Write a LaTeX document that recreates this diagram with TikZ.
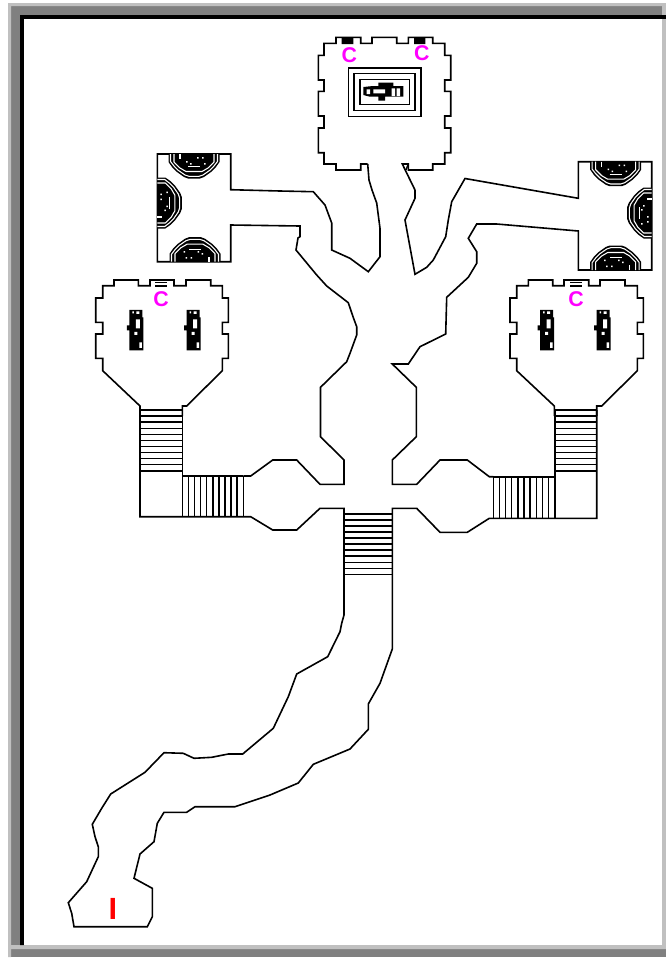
\documentclass[tikz,border=0pt]{standalone}
\usepackage{fontspec}
\setmainfont{Liberation Sans}
\definecolor{framelight}{HTML}{C0C0C0}
\definecolor{framegray}{HTML}{808080}
\definecolor{magentac}{HTML}{FF00FF}
\tikzset{
  wall/.style={draw=black,line width=1.2pt,line join=miter},
  thinline/.style={draw=black,line width=1.1pt},
  whiteline/.style={draw=white,line width=0.8pt,line join=round},
  cmark/.style={text=magentac,font=\fontsize{16}{16}\selectfont\bfseries,inner sep=0pt},
  imark/.style={text=red,font=\fontsize{23}{23}\selectfont\bfseries,inner sep=0pt}
}
% half-round alcove with concentric rings, on a wall
\newcommand{\alcove}[3]{%
  \begin{scope}[shift={(#1,#2)},rotate=#3]
    \fill[black] (-25.5,0) -- (-25.5,8) -- (-22,13) -- (-17,18) -- (-10,23) -- (-6,24.5) -- (6,24.5) -- (10,23) -- (17,18) -- (22,13) -- (25.5,8) -- (25.5,0) -- cycle;
    \draw[whiteline] (-23.5,0) -- (-23.5,7.5) -- (-20,12) -- (-15.5,16.5) -- (-9,21) -- (-5,22.3) -- (5,22.3) -- (9,21) -- (15.5,16.5) -- (20,12) -- (23.5,7.5) -- (23.5,0);
    \draw[whiteline] (-20,0) -- (-20,8) -- (-14,14) -- (-8,17.5) -- (8,17.5) -- (14,14) -- (20,8) -- (20,0);
    \draw[whiteline] (-14,0) -- (-14,5) (-6,12.5) -- (6,12.5);
    \fill[white] (-8,7) rectangle (-6.5,8.5) (-4,9) rectangle (-2.5,10.5) (3,3) rectangle (4.5,4.5) (8,3) rectangle (9.5,4.5) (10,9) rectangle (11.5,10.5);
  \end{scope}}
% statue: origin at its upper left corner
\newcommand{\statue}[2]{%
  \begin{scope}[shift={(#1,#2)}]
    \fill[black] (0,0.5) -- (13,0.5) -- (13,8) -- (14,8) -- (14,41) -- (0,41) -- (0,21) -- (-2.5,21) -- (-2.5,16) -- (0,16) -- cycle;
    \fill[white] (3,2) rectangle (4.5,4) (7,2) rectangle (10,4.5) (6.5,10) rectangle (10.5,19) (5,22.5) rectangle (8,25.5) (10,33) rectangle (12.5,38.5);
  \end{scope}}
\begin{document}
\begin{tikzpicture}[x=0.75pt,y=-0.75pt]
\useasboundingbox (0,0) rectangle (666,958);
% frame
\fill[framegray] (8,3) rectangle (666,957);
\fill[framelight] (8,3) rectangle (666,6) (8,3) rectangle (11,957) (662,6) rectangle (666,949) (11,945) rectangle (666,949);
\fill[black] (20,15) rectangle (666,19) (20,15) rectangle (24,945);
\fill[white] (24,19) rectangle (662,945);
\fill[framelight] (662,19) rectangle (666,949);
% central hall
\draw[wall] (367.7,164) -- (360.7,164) -- (360.7,170) -- (336,170) -- (336,164) -- (324,164) -- (324,152.7) -- (318.3,152.7) -- (318.3,128) -- (324,128) -- (324,116) -- (318.3,116) -- (318.3,91.3) -- (324,91.3) -- (324,80) -- (318.3,80) -- (318.3,55.3) -- (324,55.3) -- (324,43.3) -- (336,43.3) -- (336,37.3) -- (360.7,37.3) -- (360.7,43.3) -- (372,43.3) -- (372,37.3) -- (396.7,37.3) -- (396.7,43.3) -- (408.3,43.3) -- (408.3,37.3) -- (432.7,37.3) -- (432.7,43.3) -- (444.7,43.3) -- (444.7,55.3) -- (450.7,55.3) -- (450.7,80) -- (444.7,80) -- (444.7,91.3) -- (450.7,91.3) -- (450.7,116) -- (444.7,116) -- (444.7,128) -- (450.7,128) -- (450.7,152.7) -- (444.7,152.7) -- (444.7,164) -- (432.7,164) -- (432.7,170) -- (408.3,170) -- (408.3,164) -- (402.3,164) -- (415,190);
\draw[thinline] (408.3,164) -- (406,170);
\fill[black] (341.7,38) rectangle (353.3,44) (414,38) rectangle (425.3,44);
\node[cmark] (c1) at (349.3,55.3) {C};
\node[cmark] (c2) at (421.7,53.3) {C};
\draw[wall] (348.3,67.7) rectangle (420.7,116.3);
\draw[wall] (354,73.3) rectangle (415,110.3);
\draw[wall] (360,79.3) rectangle (409.3,104.3);
\fill[black] (363.3,87) -- (373,86) -- (378.3,86) -- (378.3,82.7) -- (393.3,82.7) -- (393.3,86) -- (403.3,86) -- (403.3,96.7) -- (385,96.7) -- (385,100.7) -- (378.3,100.7) -- (378.3,96.7) -- (370,96.7) -- (363.3,95) -- cycle;
\fill[white] (373.3,89.3) rectangle (385,93.3) (391.7,88.3) rectangle (395,96) (396.7,88.3) rectangle (400,96) (366.7,89.3) rectangle (370,94);
% corridor from the left T room to the central hall
\draw[wall] (367.7,164) -- (369,180) -- (372,190) -- (376.7,203) -- (380,228.3) -- (380,256.7) -- (368.3,271.7) -- (350,258.3) -- (331.7,250) -- (331.7,223) -- (325,205) -- (313.3,191.7) -- (280,191) -- (230.7,189.7) -- (230.7,154) -- (157.3,154) -- (157.3,261.7) -- (230.7,261.7) -- (230.7,225) -- (300,226) -- (300,236.7) -- (298,238) -- (296,250) -- (316.7,275) -- (326.7,286) -- (348.3,302.7) -- (353,316.7) -- (356.7,326.7) -- (356.7,335) -- (350,353.3) -- (346.7,361.7) -- (320.5,387.3) -- (320.5,436.7) -- (344,460) -- (344,484.3) -- (320,484.3) -- (296.7,460) -- (272.7,460) -- (250.7,476) -- (243.3,476);
% corridor from the central hall to the right T room
\draw[wall] (415,190) -- (415,198.3) -- (405,220) -- (415,274.3) -- (426.7,267.3) -- (433.3,260) -- (445.7,236.7) -- (448.3,220) -- (451.7,201.7) -- (465,178.5) -- (578.3,198.3) -- (578.3,161.7) -- (651.7,161.7) -- (651.7,270) -- (578.3,270) -- (578.3,231) -- (496.7,224) -- (476.7,224) -- (468.3,238.3) -- (476.7,251.7) -- (476.7,263.3) -- (468.3,277.3) -- (446.7,297.3) -- (445.7,334) -- (420,346.7) -- (408.3,364) -- (392.3,364) -- (416.3,387.3) -- (416.3,436.7) -- (392.3,460) -- (392.3,484.3) -- (416.7,484.3) -- (440,460) -- (467.3,460) -- (489.3,476.7) -- (493.3,476.7);
% alcoves
\alcove{194}{154}{0}
\alcove{157.3}{203}{90}
\alcove{195}{261.7}{180}
\alcove{615.7}{161.7}{0}
\alcove{651.7}{213}{-90}
\alcove{615.7}{270}{180}
% left side room
\draw[wall] (140,416) -- (140,406) -- (102.7,370.7) -- (102.7,358.3) -- (95.7,358.3) -- (95.7,334) -- (102.7,334) -- (102.7,322.3) -- (95.7,322.3) -- (95.7,298) -- (102.7,298) -- (102.7,285.7) -- (114,285.7) -- (114,280) -- (138.3,280) -- (138.3,285.7) -- (150,285.7) -- (150,280) -- (174,280) -- (174,285.7) -- (186,285.7) -- (186,280) -- (210.7,280) -- (210.7,285.7) -- (222.3,285.7) -- (222.3,298) -- (228.3,298) -- (228.3,322.3) -- (222.3,322.3) -- (222.3,334) -- (228.3,334) -- (228.3,358.3) -- (222.3,358.3) -- (222.3,370.7) -- (186.7,406) -- (182.3,406) -- (182.3,416);
\draw[thinline] (155,282.5) -- (167.3,282.5) (155,286) -- (167.3,286);
\node[cmark] (c3) at (161,299.3) {C};
\statue{129.3}{309.3}
\statue{186.7}{309.3}
% right side room
\draw[wall] (554.3,416) -- (554.3,406) -- (516.7,370.7) -- (516.7,358.3) -- (510,358.3) -- (510,334) -- (516.7,334) -- (516.7,322.3) -- (510,322.3) -- (510,298) -- (516.7,298) -- (516.7,285.7) -- (528.3,285.7) -- (528.3,280) -- (552.7,280) -- (552.7,285.7) -- (564,285.7) -- (564,280) -- (588.7,280) -- (588.7,285.7) -- (600,285.7) -- (600,280) -- (625,280) -- (625,285.7) -- (637.3,285.7) -- (637.3,298) -- (643.3,298) -- (643.3,322.3) -- (637.3,322.3) -- (637.3,334) -- (643.3,334) -- (643.3,358.3) -- (637.3,358.3) -- (637.3,370.7) -- (601.7,406) -- (596.7,406) -- (596.7,416);
\draw[thinline] (570,282.5) -- (581.7,282.5) (570,286) -- (581.7,286);
\node[cmark] (c4) at (576,299.3) {C};
\statue{540}{309.3}
\statue{596.7}{309.3}
% left stairs and landing
\draw[wall] (140,410) -- (140,516.7) -- (250.7,516.7) -- (272.7,530) -- (296.7,530) -- (320,508.3) -- (344,508.3) -- (344,615) -- (341.7,623.3) -- (340,631.7) -- (327.7,656.7) -- (296.7,674) -- (288.3,696.7) -- (273.3,728.3) -- (242.7,754) -- (228.3,754) -- (211.7,757.3) -- (194,758.3) -- (183.3,753.3) -- (164,752.7) -- (145,772.3) -- (110.7,794) -- (101.7,808.3) -- (92.3,824.3) -- (95,836.7) -- (98.3,846.7) -- (98.3,856.7) -- (86.7,881.7) -- (68.3,902.7) -- (71.7,913.3) -- (74,926.7) -- (147.3,926.7) -- (152.3,916.7) -- (152.3,888.3) -- (134,878.3) -- (140,854) -- (154,841.7) -- (157.3,823.3) -- (164,812.3) -- (186.7,812.3) -- (195,806.7) -- (235,806.7) -- (270,795) -- (298.3,783) -- (313.3,764.3) -- (350,749) -- (368.3,729.3) -- (368.3,704) -- (380,683.3) -- (392.3,649) -- (392.3,508.3) -- (416.7,508.3) -- (440,532.3) -- (467.3,532.3) -- (489.3,518.3) -- (596.7,518.3) -- (596.7,410);
\draw[wall] (182.3,410) -- (182.3,516.7);
\draw[wall] (182.3,476) -- (243.3,476);
\foreach \n in {0,...,10} {\draw[thinline] (140,410+6.08*\n) -- (182.3,410+6.08*\n);}
\foreach \n in {0,...,10} {\draw[thinline] (182.3+6.1*\n,476) -- (182.3+6.1*\n,516.7);}
% right stairs and landing
\draw[wall] (554.7,410) -- (554.7,518.3);
\draw[wall] (493.3,476.7) -- (554.7,476.7);
\foreach \n in {0,...,10} {\draw[thinline] (554.7,410+6.08*\n) -- (596.7,410+6.08*\n);}
\foreach \n in {0,...,10} {\draw[thinline] (493.3+6.14*\n,476.7) -- (493.3+6.14*\n,518.3);}
% central stairs
\foreach \n in {0,...,10} {\draw[thinline] (344,514+6.03*\n) -- (392.3,514+6.03*\n);}
\node[imark] (i1) at (113,909) {I};
\end{tikzpicture}
\end{document}
